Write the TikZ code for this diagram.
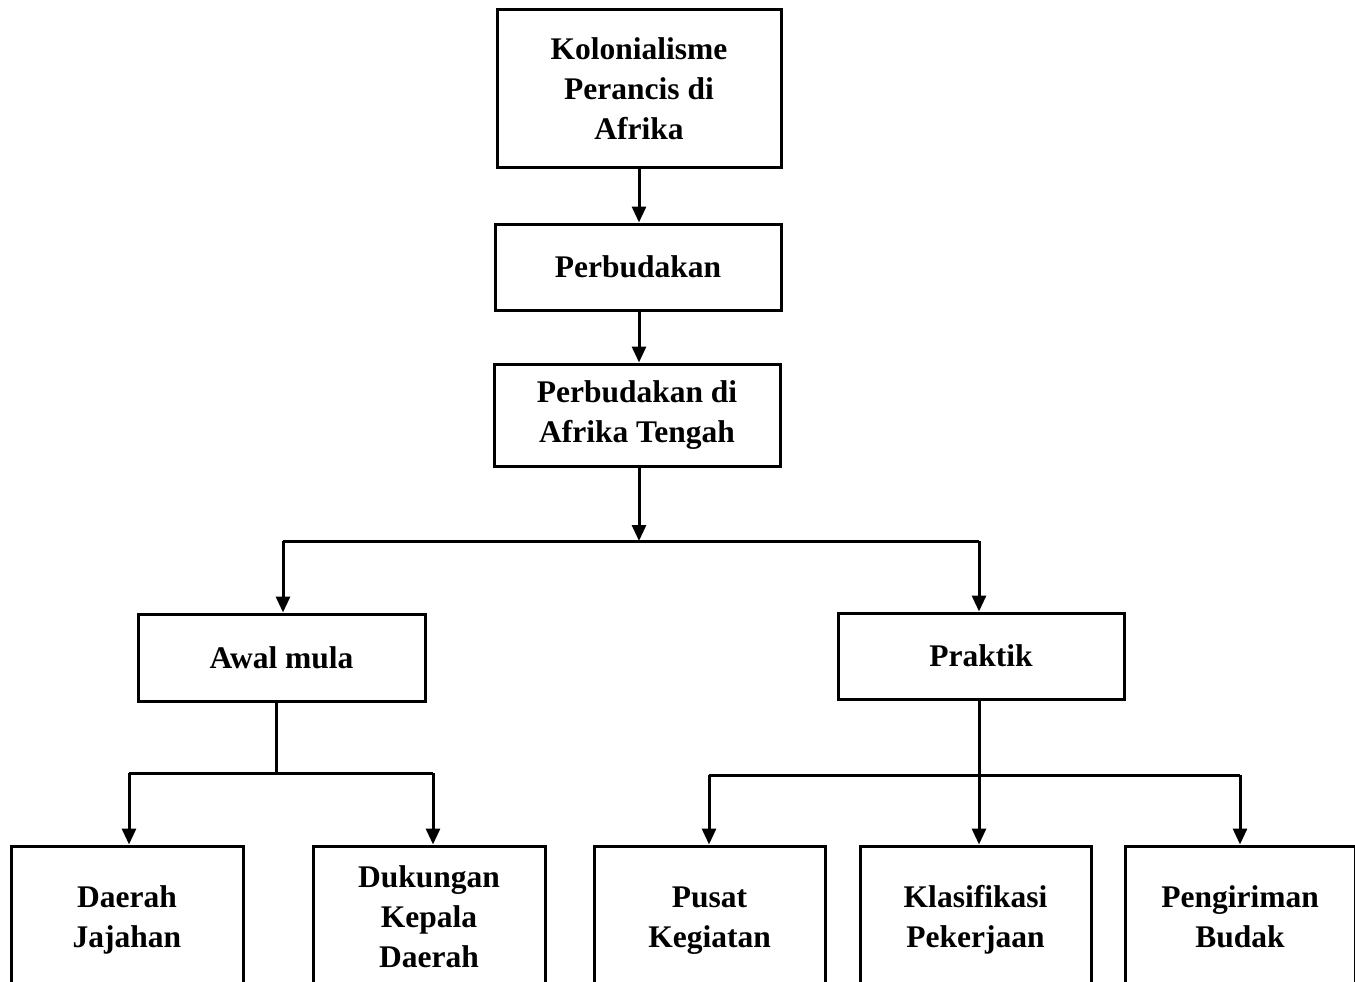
\documentclass[tikz,border=0pt]{standalone}
\usepackage{fontspec}
\setmainfont{Liberation Serif}
\usetikzlibrary{arrows.meta}
\begin{document}
\begin{tikzpicture}[x=1pt,y=-1pt,
  box/.style={draw,line width=3pt,rectangle,align=center,inner sep=0pt,
    font=\fontsize{31.5}{40}\selectfont\bfseries},
  line/.style={line width=3pt},
  arr/.style={line width=3pt,-{Triangle[width=14pt,length=16pt]}}]
\clip (0,0) rectangle (1355,982);
\fill[white] (0,0) rectangle (1355,982);
\node[box,minimum width=284pt,minimum height=157pt] (kol) at (639,88.5) {Kolonialisme\\Perancis di\\Afrika};
\node[box,minimum width=286pt,minimum height=86pt] (perb) at (638,267) {Perbudakan};
\node[box,minimum width=286pt,minimum height=102pt] (perbat) at (637,415) {Perbudakan di\\Afrika Tengah};
\node[box,minimum width=287pt,minimum height=87pt] (awal) at (281.5,657.5) {Awal mula};
\node[box,minimum width=286pt,minimum height=86pt] (prak) at (981,656) {Praktik};
\node[box,minimum width=232pt,minimum height=142pt] (daerah) at (127,917) {\rule{0pt}{28pt}Daerah\\Jajahan};
\node[box,minimum width=232pt,minimum height=142pt] (duk) at (429,917) {Dukungan\\Kepala\\Daerah};
\node[box,minimum width=231pt,minimum height=142pt] (pusat) at (709.5,917) {\rule{0pt}{28pt}Pusat\\Kegiatan};
\node[box,minimum width=231pt,minimum height=142pt] (klas) at (975.5,917) {\rule{0pt}{28pt}Klasifikasi\\Pekerjaan};
\node[box,minimum width=230pt,minimum height=142pt] (peng) at (1240,917) {Pengiriman\\Budak};
\coordinate (h1) at (639,541);
\coordinate (hl) at (283,541);
\coordinate (hr) at (979,541);
\coordinate (a1) at (276,773);
\coordinate (al) at (129,773);
\coordinate (ar) at (433,773);
\coordinate (p1) at (979,775);
\coordinate (pl) at (709,775);
\coordinate (pr) at (1240,775);
\draw[arr] (h1 |- kol.south) -- (h1 |- perb.north);
\draw[arr] (h1 |- perb.south) -- (h1 |- perbat.north);
\draw[arr] (h1 |- perbat.south) -- (h1);
\draw[line] (hl) -- (hr);
\draw[arr] (hl) -- (hl |- awal.north);
\draw[arr] (hr) -- (hr |- prak.north);
\draw[line] (a1 |- awal.south) -- (a1);
\draw[line] (al) -- (ar);
\draw[arr] (al) -- (al |- daerah.north);
\draw[arr] (ar) -- (ar |- duk.north);
\draw[line] (p1 |- prak.south) -- (p1);
\draw[line] (pl) -- (pr);
\draw[arr] (pl) -- (pl |- pusat.north);
\draw[arr] (p1) -- (p1 |- klas.north);
\draw[arr] (pr) -- (pr |- peng.north);
\end{tikzpicture}
\end{document}
